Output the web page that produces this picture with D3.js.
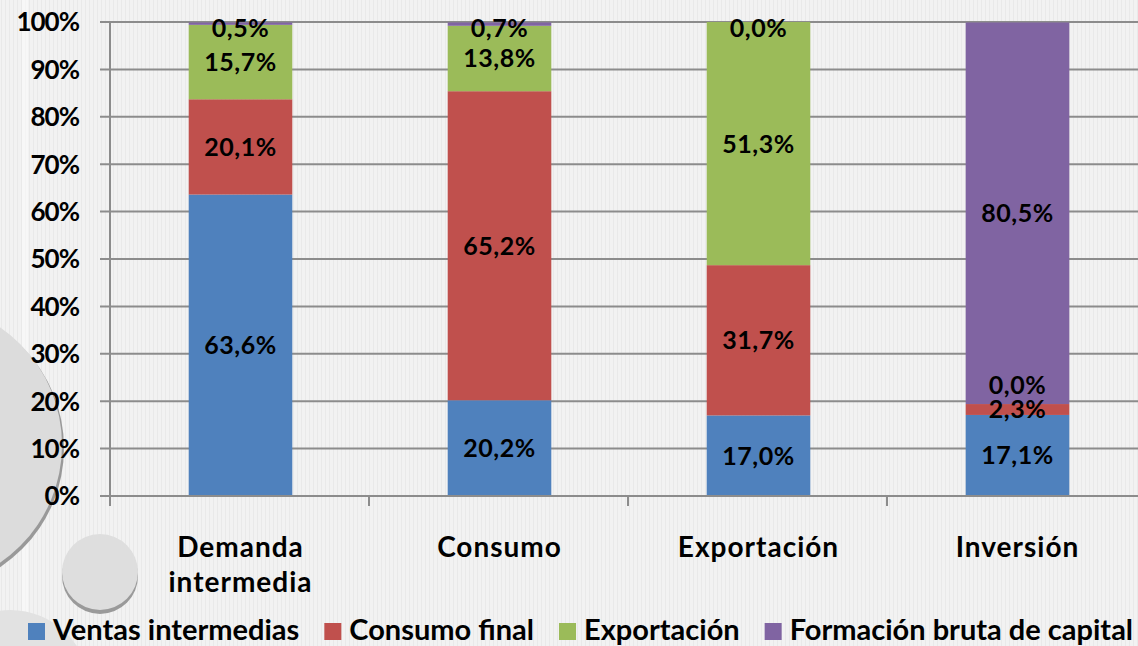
<!DOCTYPE html>
<head>
  <meta charset="utf-8">
  <script src="https://d3js.org/d3.v7.min.js"></script>
  <style>
  body { margin: 0; background: #f1f1f1; }
  svg { display: block; font-family: Lato, "Open Sans", sans-serif; font-weight: bold; }
  .grid line { stroke: #8c8c8c; stroke-width: 2px; }
  .lbl { font-size: 25px; fill: #000; text-anchor: middle; letter-spacing: 0.5px; }
</style>
</head>
<body>
<svg width="1138" height="646"></svg>

<script type="text/javascript">
// Data
var categories = ["Demanda intermedia", "Consumo", "Exportación", "Inversión"];
var seriesNames = ["Ventas intermedias", "Consumo final", "Exportación", "Formación bruta de capital"];
var ventas    = [63.6, 20.2, 17.0, 17.1];
var consumo   = [20.1, 65.2, 31.7, 2.3];
var export_   = [15.7, 13.8, 51.3, 0.0];
var formacion = [0.5, 0.7, 0.0, 80.5];
var colors = ["#4f81bd", "#c0504d", "#9bbb59", "#8064a2"];
var yTicks = [0, 10, 20, 30, 40, 50, 60, 70, 80, 90, 100];

var series = [ventas, consumo, export_, formacion];

var svg = d3.select("svg");

// background texture
var defs = svg.append("defs");
var pat = defs.append("pattern").attr("id", "tex")
  .attr("width", 4).attr("height", 4).attr("patternUnits", "userSpaceOnUse");
pat.append("rect").attr("width", 4).attr("height", 4).attr("fill", "#f2f2f2");
pat.append("rect").attr("x", 1).attr("width", 1).attr("height", 4).attr("fill", "#e9e9e9");
svg.append("rect").attr("width", 1138).attr("height", 646).attr("fill", "url(#tex)");
svg.append("rect").attr("x", 22).attr("width", 6).attr("height", 646).attr("fill", "#fafafa").attr("opacity", 0.6);

// decorative discs on the left
svg.append("circle").attr("cx", -79).attr("cy", 448).attr("r", 143).attr("fill", "#999");
svg.append("circle").attr("cx", -81).attr("cy", 445).attr("r", 143).attr("fill", "#dcdcdc");
svg.append("circle").attr("cx", 10).attr("cy", 690).attr("r", 80).attr("fill", "#e2e2e2");
svg.append("circle").attr("cx", 100).attr("cy", 576).attr("r", 38).attr("fill", "#9a9a9a");
svg.append("circle").attr("cx", 100).attr("cy", 572).attr("r", 38).attr("fill", "#dedede");

var x = d3.scaleBand().domain(categories).range([111, 1147]).padding(0);
var y = d3.scaleLinear().domain([0, 100]).range([496, 22]);
var barW = x.bandwidth() * 0.4;

// gridlines
svg.append("g").attr("class", "grid")
  .selectAll("line").data(yTicks).enter().append("line")
  .attr("x1", 100).attr("x2", 1138)
  .attr("y1", function(d) { return y(d); }).attr("y2", function(d) { return y(d); });

// y labels
svg.append("g").selectAll("text").data(yTicks).enter().append("text")
  .attr("x", 79).attr("y", function(d) { return y(d); })
  .attr("dy", "0.36em").attr("text-anchor", "end")
  .style("font-size", "26px").style("letter-spacing", "-1px")
  .text(function(d) { return d + "%"; });

// stack
var rows = categories.map(function(c, i) {
  var o = { cat: c };
  series.forEach(function(s, j) { o["s" + j] = s[i]; });
  return o;
});
var stack = d3.stack().keys(series.map(function(s, j) { return "s" + j; }));
var layers = stack(rows);

var g = svg.append("g");
layers.forEach(function(layer, j) {
  g.selectAll(".b" + j).data(layer).enter().append("rect")
    .attr("x", function(d) { return x(d.data.cat) + (x.bandwidth() - barW) / 2; })
    .attr("width", barW)
    .attr("y", function(d) { return y(d[1]); })
    .attr("height", function(d) { return y(d[0]) - y(d[1]); })
    .attr("fill", colors[j]);
});

// axes lines
svg.append("line").attr("x1", 110).attr("x2", 110).attr("y1", 21).attr("y2", 506)
  .attr("stroke", "#8c8c8c").attr("stroke-width", 2);
svg.append("line").attr("x1", 100).attr("x2", 1138).attr("y1", 496).attr("y2", 496)
  .attr("stroke", "#8c8c8c").attr("stroke-width", 2);
svg.append("g").selectAll("line").data(categories.slice(1)).enter().append("line")
  .attr("x1", function(d) { return x(d) - 1; }).attr("x2", function(d) { return x(d) - 1; })
  .attr("y1", 496).attr("y2", 506).attr("stroke", "#8c8c8c").attr("stroke-width", 2);

// data labels, pushed so they don't overlap within a bar
categories.forEach(function(c, i) {
  var prevY = null;
  layers.forEach(function(layer) {
    var d = layer[i];
    var cy = y((d[0] + d[1]) / 2);
    if (cy < 28) cy = 28;
    if (prevY !== null && prevY - cy < 24) cy = prevY - 24;
    prevY = cy;
    g.append("text").attr("class", "lbl")
      .attr("x", x(c) + x.bandwidth() / 2).attr("y", cy).attr("dy", "0.36em")
      .text((d[1] - d[0]).toFixed(1).replace(".", ",") + "%");
  });
});

// category labels
svg.append("g").selectAll("text").data(categories).enter().append("text")
  .attr("x", function(d) { return x(d) + x.bandwidth() / 2; })
  .attr("y", 557).attr("text-anchor", "middle")
  .style("font-size", "28px").style("letter-spacing", "1px")
  .each(function(d) {
    var t = d3.select(this);
    var words = d === "Demanda intermedia" ? ["Demanda", "intermedia"] : [d];
    words.forEach(function(w, k) {
      t.append("tspan").attr("x", x(d) + x.bandwidth() / 2).attr("dy", k ? 35 : 0).text(w);
    });
  });

// legend, laid out from measured text widths
var legend = svg.append("g");
var lx = 28;
seriesNames.forEach(function(name, i) {
  legend.append("rect").attr("x", lx).attr("y", 623).attr("width", 17).attr("height", 17)
    .attr("fill", colors[i]);
  var t = legend.append("text").attr("x", lx + 25).attr("y", 640)
    .style("font-size", "29px").text(name);
  lx += 25 + t.node().getComputedTextLength() + 25;
});
</script>
</body>
</html>
